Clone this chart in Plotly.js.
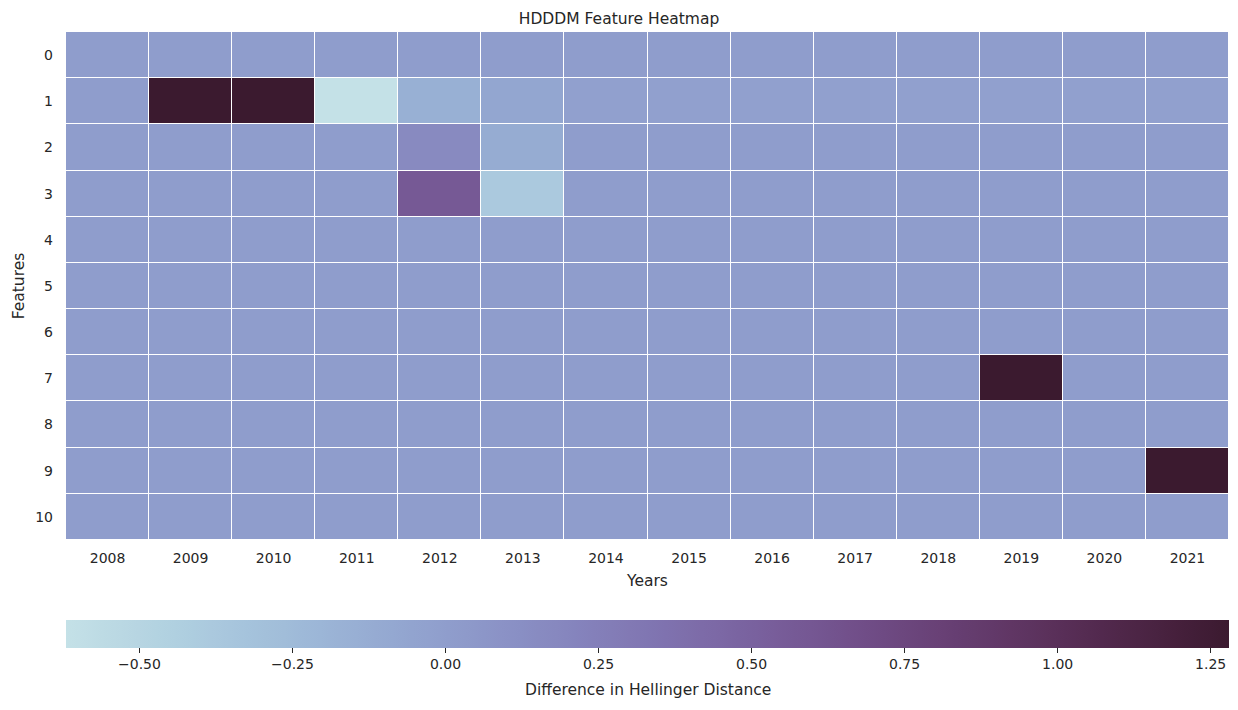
<!DOCTYPE html>
<html><head><meta charset="utf-8">
<script src="https://cdn.plot.ly/plotly-3.0.1.min.js"></script>
<style>html,body{margin:0;padding:0;background:#fff;}#chart{width:1238px;height:710px;}</style>
</head><body><div id="chart"></div>
<script>
const years = ['2008','2009','2010','2011','2012','2013','2014','2015','2016','2017','2018','2019','2020','2021'];
const features = ['0','1','2','3','4','5','6','7','8','9','10'];
// values: rows = features, cols = years
const row0  = [0,0,0,0,0,0,0,0,0,0,0,0,0,0];
const row1  = [0,1.28,1.28,-0.62,-0.15,-0.07,-0.02,-0.02,-0.02,-0.02,-0.02,-0.02,-0.02,-0.02];
const row2  = [0,0,0,0,0.16,-0.12,0,0,0,0,0,0,0,0];
const row3  = [0,0,0,0,0.58,-0.38,0,0,0,0,0,0,0,0];
const row4  = [0,0,0,0,0,0,0,0,0,0,0,0,0,0];
const row5  = [0,0,0,0,0,0,0,0,0,0,0,0,0,0];
const row6  = [0,0,0,0,0,0,0,0,0,0,0,0,0,0];
const row7  = [0,0,0,0,0,0,0,0,0,0,0,1.28,0,0];
const row8  = [0,0,0,0,0,0,0,0,0,0,0,0,0,0];
const row9  = [0,0,0,0,0,0,0,0,0,0,0,0,0,1.28];
const row10 = [0,0,0,0,0,0,0,0,0,0,0,0,0,0];
const cbTicks = [-0.5,-0.25,0,0.25,0.5,0.75,1.0,1.25];

// seaborn-style cubehelix colormap (start=.8, rot=-.5, light=.85, dark=.15)
function cubehelix(x){
  const start=0.8, rot=-0.5, hue=0.8, gamma=1.0;
  const xg=Math.pow(x,gamma);
  const a=hue*xg*(1-xg)/2;
  const phi=2*Math.PI*(start/3+rot*x);
  const f=(p0,p1)=>Math.min(1,Math.max(0,xg+a*(p0*Math.cos(phi)+p1*Math.sin(phi))));
  const r=f(-0.14861,1.78277), g=f(-0.29227,-0.90649), b=f(1.97294,0);
  return `rgb(${Math.round(r*255)},${Math.round(g*255)},${Math.round(b*255)})`;
}
const colorscale=[];
for(let i=0;i<=64;i++){const t=i/64; colorscale.push([t, cubehelix(0.85-0.7*t)]);}

const z=[row0,row1,row2,row3,row4,row5,row6,row7,row8,row9,row10];
const font={family:'DejaVu Sans, sans-serif', color:'#262626'};

Plotly.newPlot('chart',[{
  type:'heatmap', x:years, y:features, z:z,
  colorscale:colorscale, xgap:1, ygap:1,
  hoverongaps:false,
  colorbar:{
    orientation:'h', x:0.5, xanchor:'center', y:-0.157, yanchor:'top',
    len:1, lenmode:'fraction', thickness:28, thicknessmode:'pixels',
    xpad:0, ypad:0, outlinewidth:0,
    tickvals:cbTicks, tickformat:'.2f', ticks:'outside', ticklen:5, tickwidth:1.2, tickcolor:'#262626',
    tickfont:{family:font.family, size:14, color:'#262626'}
  }
}],{
  width:1238, height:710,
  margin:{l:66, r:9, t:32, b:170},
  paper_bgcolor:'#fff', plot_bgcolor:'#fff',
  font:font,
  title:{text:'HDDDM Feature Heatmap', x:0.5, xanchor:'center', y:0.974, yanchor:'middle', font:{family:font.family, size:15.5, color:'#262626'}},
  xaxis:{type:'category', showgrid:false, zeroline:false, showline:false, ticks:'', ticklabelstandoff:8,
    tickfont:{size:14, color:'#262626'},
    title:{text:'Years', standoff:10, font:{size:15.5, color:'#262626'}}},
  yaxis:{type:'category', autorange:'reversed', showgrid:false, zeroline:false, showline:false, ticks:'', ticklabelstandoff:12,
    tickfont:{size:14, color:'#262626'},
    title:{text:'Features', standoff:6, font:{size:15.5, color:'#262626'}}},
  annotations:[{text:'Difference in Hellinger Distance', xref:'paper', yref:'paper', x:0.5, y:-0.295,
    xanchor:'center', yanchor:'middle', showarrow:false, font:{family:font.family, size:15.5, color:'#262626'}}]
},{displayModeBar:false});
</script></body></html>
